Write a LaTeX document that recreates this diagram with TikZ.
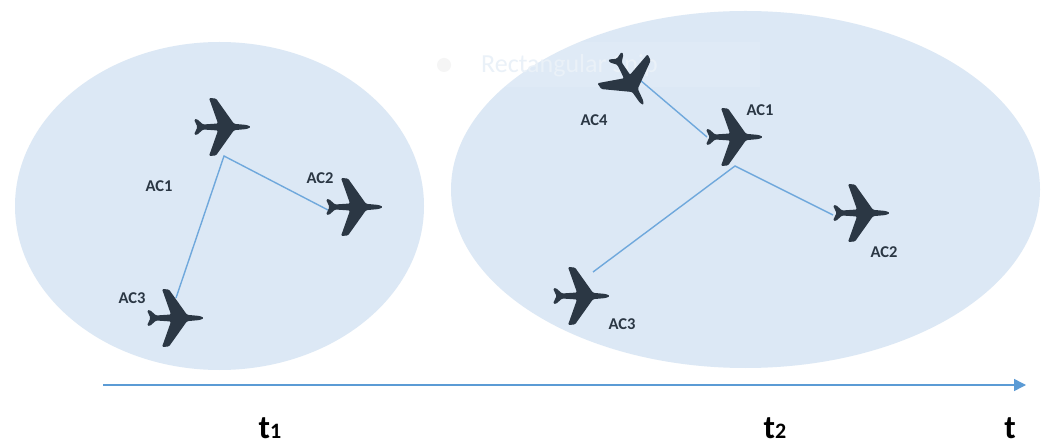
\documentclass[tikz,border=0pt]{standalone}
\usepackage{fontspec}
\setmainfont{Carlito}
\usetikzlibrary{arrows.meta}
\definecolor{zone}{HTML}{DCE8F5}
\definecolor{link}{HTML}{6FA8DC}
\definecolor{axis}{HTML}{5B9BD5}
\definecolor{craft}{HTML}{2B3744}
\definecolor{snip}{HTML}{EAF1F8}
\tikzset{
  zonearea/.style={fill=zone,draw=none},
  linkline/.style={draw=link,line width=1.4pt},
  axisline/.style={draw=axis,line width=1.5pt,-{Triangle[length=12pt,width=12pt]}},
  aclabel/.style={font=\fontsize{16.5}{18}\selectfont\bfseries,text=craft,inner sep=0pt},
  tlabel/.style={font=\fontsize{33}{36}\selectfont\bfseries,text=black,inner sep=0pt,anchor=base},
  plane/.pic={
    \fill[craft,rounded corners=1.2pt]
      (29,0) -- (25,-2) -- (12,-3.2) -- (-6,-28.5) -- (-13,-29) -- (-4,-3.5) -- (-19,-2.5)
      -- (-25,-8) -- (-28,-7.5) -- (-24.5,0) -- (-28,7.5) -- (-25,8) -- (-19,2.5)
      -- (-4,3.5) -- (-13,29) -- (-6,28.5) -- (12,3.2) -- (25,2) -- cycle;
  }
}
\begin{document}
\begin{tikzpicture}[x=1pt,y=-1pt]
\useasboundingbox (0,0) rectangle (1046,443);
\fill[white] (0,0) rectangle (1046,443);
\fill[zonearea] (219.5,206) ellipse [x radius=204.5,y radius=164];
\fill[zonearea] (745.5,189.5) ellipse [x radius=294.5,y radius=178.5];
% faint snipping-tool remnant
\fill[white,opacity=.1] (421,42) rectangle (760,87);
\fill[white,opacity=.2] (421,42) rectangle (466,87);
\fill[black!4] (444,65) circle (7);
\node[font=\fontsize{26}{30}\selectfont,text=snip,anchor=west,inner sep=0pt] (snip) at (481,66) {Rectangular Snip};
% connector points
\coordinate (la) at (224,156);
\coordinate (lb) at (328,210);
\coordinate (lc) at (176,298);
\coordinate (ra) at (735,166);
\coordinate (rb) at (833,215);
\coordinate (rc) at (593,272);
\coordinate (rd) at (640,80);
\coordinate (re) at (707,137);
\coordinate (axa) at (103,385);
\coordinate (axb) at (1026,385);
\draw[linkline] (lc) -- (la) -- (lb);
\draw[linkline] (rc) -- (ra) -- (rb);
\draw[linkline] (rd) -- (re);
\draw[axisline] (axa) -- (axb);
% aircraft
\pic at (222,127) {plane};
\pic at (354,207) {plane};
\pic at (175,318) {plane};
\pic at (734,137) {plane};
\pic at (861,213) {plane};
\pic at (581,296) {plane};
\pic[rotate=-60] at (629,80) {plane};
% labels
\node[aclabel] (t1a) at (159,186) {AC1};
\node[aclabel] (t1b) at (320,178) {AC2};
\node[aclabel] (t1c) at (132,298) {AC3};
\node[aclabel] (t2a) at (760,110) {AC1};
\node[aclabel] (t2b) at (884,252) {AC2};
\node[aclabel] (t2c) at (622,324) {AC3};
\node[aclabel] (t2d) at (594,120) {AC4};
\node[tlabel] (ta) at (270,438) {t\fontsize{22}{24}\selectfont 1};
\node[tlabel] (tb) at (775,438) {t\fontsize{22}{24}\selectfont 2};
\node[tlabel] (tc) at (1010,438) {t};
\end{tikzpicture}
\end{document}
